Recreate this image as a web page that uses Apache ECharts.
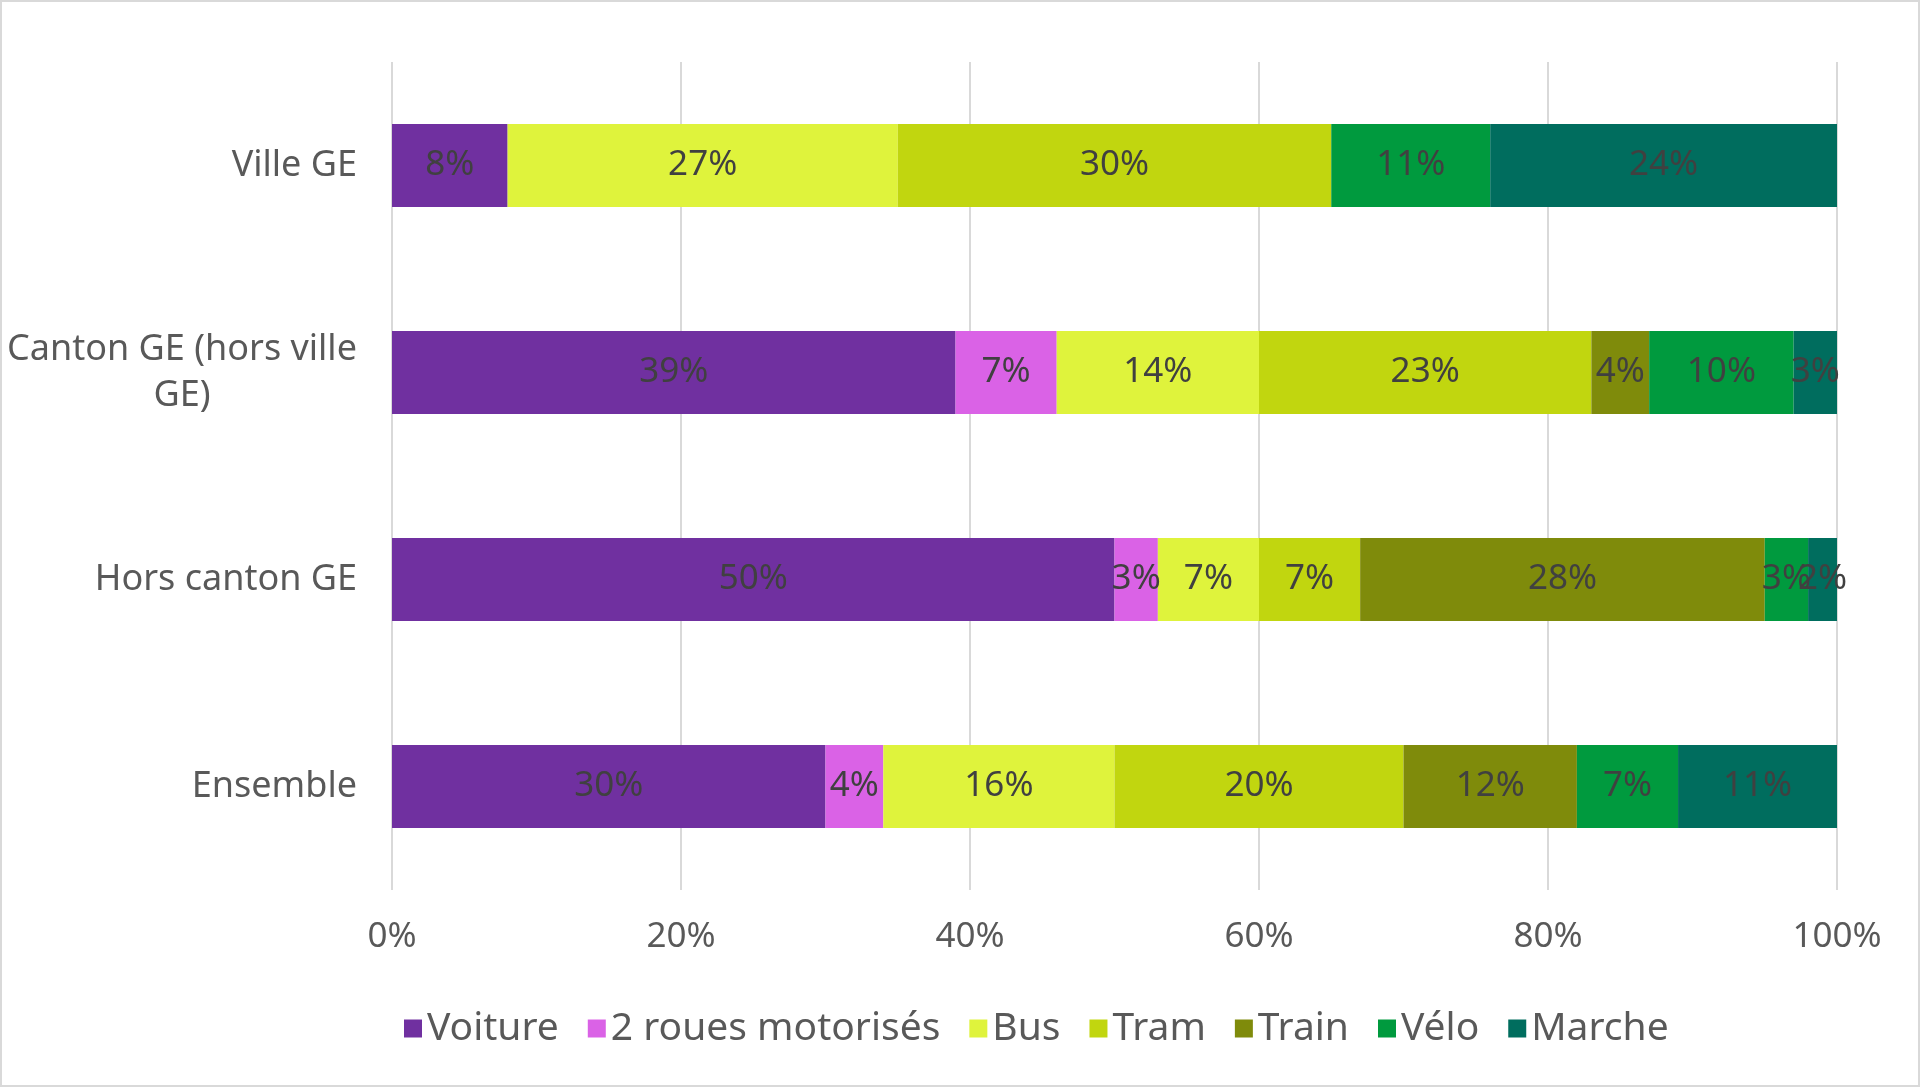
<!DOCTYPE html>
<html>
<head>
<meta charset="utf-8">
<script src="https://cdn.jsdelivr.net/npm/echarts@6/dist/echarts.min.js"></script>
<style>
  html, body { margin: 0; padding: 0; background: #fff; }
  #chart { width: 1920px; height: 1087px; box-sizing: border-box; border: 2px solid #d9d9d9; }
</style>
</head>
<body>
<div id="chart"></div>
<script>
// categories (top to bottom) and share per mode, in %
const categories = ['Ville GE', 'Canton GE (hors ville GE)', 'Hors canton GE', 'Ensemble'];
const voiture = [8, 39, 50, 30];
const deuxRoues = [0, 7, 3, 4];
const bus = [27, 14, 7, 16];
const tram = [30, 23, 7, 20];
const train = [0, 4, 28, 12];
const velo = [11, 10, 3, 7];
const marche = [24, 3, 2, 11];
const xTicks = [0, 20, 40, 60, 80, 100];

const modes = [
  { name: 'Voiture', data: voiture, color: '#7030a0' },
  { name: '2 roues motorisés', data: deuxRoues, color: '#da62e6' },
  { name: 'Bus', data: bus, color: '#dff33c' },
  { name: 'Tram', data: tram, color: '#c1d60f' },
  { name: 'Train', data: train, color: '#7f8b0b' },
  { name: 'Vélo', data: velo, color: '#009a3e' },
  { name: 'Marche', data: marche, color: '#006d5e' }
];

const font = 'Noto Sans';
const myChart = echarts.init(document.getElementById('chart'));

const option = {
  animation: false,
  textStyle: { fontFamily: font },
  grid: { left: 390, right: 81, top: 60, bottom: 195, containLabel: false },
  legend: {
    bottom: 32,
    left: 397,
    itemWidth: 18,
    itemHeight: 18,
    itemGap: 29,
    icon: 'rect',
    textStyle: { fontSize: 39, color: '#595959', fontFamily: font }
  },
  xAxis: {
    type: 'value',
    min: xTicks[0],
    max: xTicks[xTicks.length - 1],
    interval: 20,
    axisLine: { show: false },
    axisTick: { show: false },
    axisLabel: { formatter: '{value}%', fontSize: 35, color: '#595959', margin: 30 },
    splitLine: { lineStyle: { color: '#d9d9d9', width: 2 } }
  },
  yAxis: {
    type: 'category',
    inverse: true,
    data: categories,
    axisLine: { show: false },
    axisTick: { show: false },
    axisLabel: {
      fontSize: 36,
      color: '#595959',
      margin: 35,
      formatter: function (v) {
        if (v === 'Canton GE (hors ville GE)') {
          return '{c|Canton GE (hors ville}\n{c|GE)}';
        }
        return v;
      },
      rich: {
        c: { width: 350, align: 'center', fontSize: 36, color: '#595959', lineHeight: 46 }
      }
    }
  },
  series: modes.map(function (m) {
    return {
      name: m.name,
      type: 'bar',
      stack: 'total',
      barWidth: 83,
      data: m.data,
      itemStyle: { color: m.color },
      label: {
        show: true,
        position: 'inside',
        fontSize: 35,
        color: '#404040',
        formatter: function (p) { return p.value ? p.value + '%' : ''; }
      }
    };
  })
};

myChart.setOption(option);
</script>
</body>
</html>
